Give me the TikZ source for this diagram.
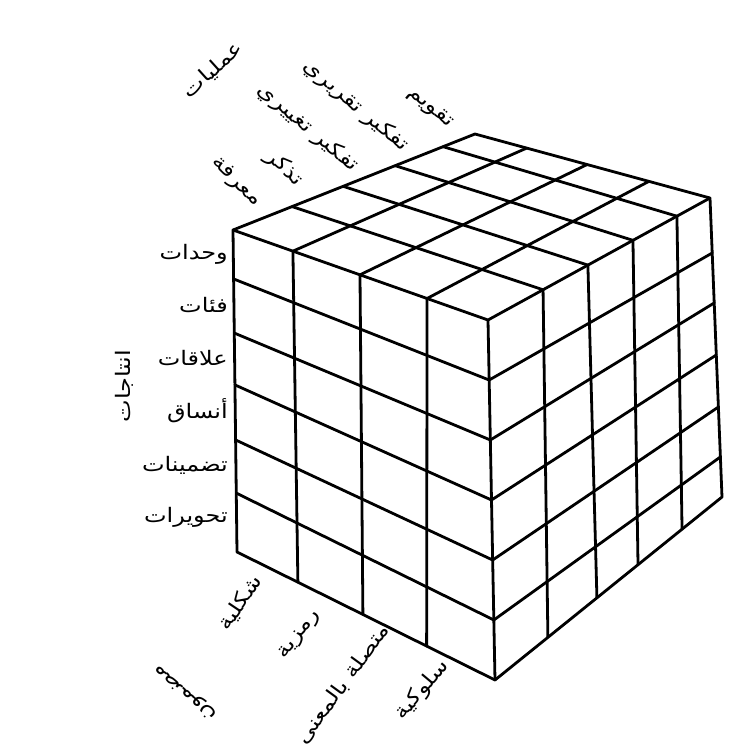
\documentclass[tikz,border=0pt]{standalone}
\usepackage{fontspec}
\newfontfamily\arabicfont[Script=Arabic, FakeStretch=1.2]{DejaVu Sans}
\TeXXeTstate=1
\usetikzlibrary{calc}
\begin{document}
\begin{tikzpicture}[x=1pt,y=-1pt,
  grid/.style={line width=2.8pt, line join=round, line cap=round},
  lbl/.style={font=\arabicfont\fontsize{20}{24}\selectfont, inner sep=0pt}]
\useasboundingbox (0,0) rectangle (748,753);
% cube corners
\coordinate (A) at (233,230);
\coordinate (B) at (488,320);
\coordinate (C) at (495,680);
\coordinate (D) at (237,552);
\coordinate (E) at (710,198);
\coordinate (F) at (722,497);
\coordinate (G) at (475,134);
% outlines
\draw[grid] (A) -- (G) -- (E) -- (F) -- (C) -- (D) -- cycle;
\draw[grid] (A) -- (B) -- (E);
\draw[grid] (B) -- (C);
% left face: columns (contents)
\foreach \t/\b in {0.235/0.236, 0.498/0.488, 0.761/0.735}
  \draw[grid] ($(A)!\t!(B)$) -- ($(D)!\b!(C)$);
% left face: rows (products)
\foreach \l/\r in {0.152/0.1667, 0.32/0.3333, 0.481/0.5, 0.652/0.6667, 0.817/0.8333}
  \draw[grid] ($(A)!\l!(D)$) -- ($(B)!\r!(C)$);
% right face: columns (operations)
\foreach \t/\b in {0.248/0.233, 0.45/0.449, 0.653/0.63, 0.851/0.824}
  \draw[grid] ($(B)!\t!(E)$) -- ($(C)!\b!(F)$);
% right face: rows
\foreach \l/\r in {0.1667/0.184, 0.3333/0.351, 0.5/0.525, 0.6667/0.699, 0.8333/0.866}
  \draw[grid] ($(B)!\l!(C)$) -- ($(E)!\r!(F)$);
% top face: lines along contents direction
\foreach \p/\q in {0.244/0.248, 0.455/0.45, 0.67/0.653, 0.868/0.851}
  \draw[grid] ($(A)!\p!(G)$) -- ($(B)!\q!(E)$);
% top face: lines along operations direction
\foreach \p/\q in {0.235/0.22, 0.498/0.477, 0.761/0.74}
  \draw[grid] ($(A)!\p!(B)$) -- ($(G)!\q!(E)$);
% axis titles
\node[lbl, rotate=42] (ops) at (213,70) {\beginR عمليات\endR};
\node[lbl, rotate=90] (prod) at (124,386) {\beginR انتاجات\endR};
\node[lbl, rotate=139] (cont) at (186,692) {\beginR مضمون\endR};
% operations
\node[lbl, rotate=-45] (o1) at (236,182) {\beginR معرفة\endR};
\node[lbl, rotate=-42] (o2) at (284,168) {\beginR تذكر\endR};
\node[lbl, rotate=-40] (o3) at (308,128) {\beginR تفكير تغييري\endR};
\node[lbl, rotate=-40] (o4) at (356,106) {\beginR تفكير تقريري\endR};
\node[lbl, rotate=-40] (o5) at (430,108) {\beginR تقويم\endR};
% products
\node[lbl, anchor=east] (p1) at (228,254) {\beginR وحدات\endR};
\node[lbl, anchor=east] (p2) at (228,305) {\beginR فئات\endR};
\node[lbl, anchor=east] (p3) at (228,358) {\beginR علاقات\endR};
\node[lbl, anchor=east] (p4) at (228,411) {\beginR أنساق\endR};
\node[lbl, anchor=east] (p5) at (228,465) {\beginR تضمينات\endR};
\node[lbl, anchor=east] (p6) at (228,517) {\beginR تحويرات\endR};
% contents
\node[lbl, rotate=56] (c1) at (240,603) {\beginR شكلية\endR};
\node[lbl, rotate=52] (c2) at (300,635) {\beginR رمزية\endR};
\node[lbl, rotate=54] (c3) at (343,684) {\beginR متصلة بالمعنى\endR};
\node[lbl, rotate=50] (c4) at (422,690) {\beginR سلوكية\endR};
\end{tikzpicture}
\end{document}
